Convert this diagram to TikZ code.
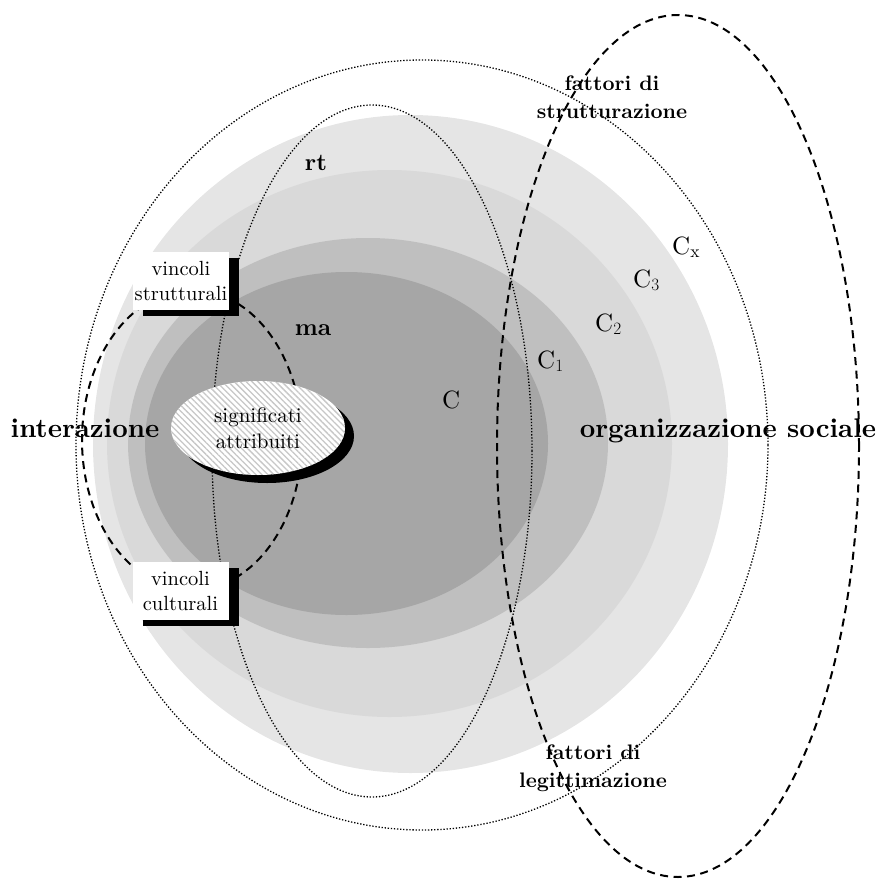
\documentclass[tikz,border=0pt]{standalone}
\usepackage{fontspec}
\setmainfont{lmroman10-regular.otf}[BoldFont=lmroman10-bold.otf, ItalicFont=lmroman10-italic.otf]
\usetikzlibrary{shapes.geometric,patterns.meta,shadows}
\begin{document}
\begin{tikzpicture}[x=1pt,y=-1pt,
  ell/.style={ellipse, inner sep=0pt, outer sep=0pt},
  gA/.style={ell, fill=black!10},
  gB/.style={ell, fill=black!15},
  gC/.style={ell, fill=black!25},
  gD/.style={ell, fill=black!35},
  dotline/.style={ell, draw, line width=1.3pt, dash pattern=on 1.3pt off 1.8pt},
  dashline/.style={ell, draw, line width=2pt, dash pattern=on 8pt off 5.5pt},
  biglab/.style={font=\fontsize{27}{30}\selectfont\bfseries, inner sep=0pt, anchor=base},
  midlab/.style={font=\fontsize{21}{28}\selectfont\bfseries, inner sep=0pt, align=center},
  smlab/.style={font=\fontsize{24}{28}\selectfont\bfseries, inner sep=0pt, anchor=base},
  clab/.style={font=\fontsize{25}{30}\selectfont, inner sep=0pt, anchor=base west},
  vbox/.style={fill=white, minimum width=96pt, minimum height=58pt, inner sep=0pt,
    align=center, font=\fontsize{20.5}{25}\selectfont,
    general shadow={fill=black, shadow xshift=10pt, shadow yshift=-6pt}},
  sigell/.style={ellipse, minimum width=174pt, minimum height=94pt, inner sep=0pt,
    align=center, font=\fontsize{21}{26}\selectfont,
    general shadow={fill=black, shadow xshift=9pt, shadow yshift=-8pt},
    preaction={fill=white},
    pattern={Lines[angle=-45,distance=4.2pt,line width=1.3pt]}, pattern color=black!22}
]
\useasboundingbox (0,0) rectangle (883,878);
% grey levels
\node[gA, minimum width=635pt, minimum height=658pt] (cx) at (410.5,444) {};
\node[gB, minimum width=565pt, minimum height=547pt] (c3) at (389.5,443.5) {};
\node[gC, minimum width=480pt, minimum height=410pt] (c2) at (368,443) {};
\node[gD, minimum width=403pt, minimum height=343pt] (c1) at (346.5,443.5) {};
% dotted ellipses
\node[dotline, minimum width=692pt, minimum height=770pt] (outer) at (422,445) {};
\node[dotline, minimum width=320pt, minimum height=692pt] (rtell) at (372,451) {};
% dashed ellipses
\node[dashline, minimum width=362pt, minimum height=862pt] (orgell) at (678,446) {};
\node[dashline, minimum width=220pt, minimum height=300pt] (intell) at (192,440) {};
% boxes
\node[vbox] (vs) at (181,281) {vincoli\\strutturali};
\node[vbox] (vc) at (180.5,591) {vincoli\\culturali};
\node[sigell] (sig) at (258,428) {significati\\attribuiti};
% labels
\node[biglab] (inter) at (85,437) {interazione};
\node[biglab] (org) at (728,437) {organizzazione sociale};
\node[midlab] (fstr) at (612,97) {fattori di\\strutturazione};
\node[midlab] (fleg) at (593,768) {fattori di\\legittimazione};
\node[smlab] (rt) at (316,170) {rt};
\node[smlab] (ma) at (313,335) {ma};
\node[clab] (lc) at (442,408) {C};
\node[clab] (lc1) at (537,368) {C$_1$};
\node[clab] (lc2) at (595,331) {C$_2$};
\node[clab] (lc3) at (633,287) {C$_3$};
\node[clab] (lcx) at (672,254) {C$_\mathrm{x}$};
\end{tikzpicture}
\end{document}
